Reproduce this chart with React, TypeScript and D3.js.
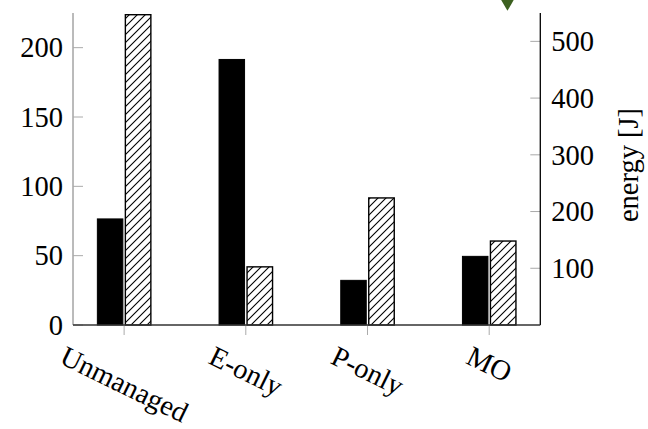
import React, { useEffect, useRef } from "react";
import * as d3 from "d3";

const categories = ["Unmanaged", "E-only", "P-only", "MO"];
const timeValues = [76.5, 191.5, 32.2, 49.5];
const energyValues = [547, 102.5, 224, 148];
const leftTicks = [0, 50, 100, 150, 200];
const rightTicks = [100, 200, 300, 400, 500];
const markerPoints = [{ pos: 3.15, energy: 570 }];

const W = 648;
const H = 429;
const FONT = "'Liberation Serif', 'DejaVu Serif', serif";
const FS = 28.5;

export default function App() {
  const ref = useRef<SVGSVGElement | null>(null);

  useEffect(() => {
    const svg = d3.select(ref.current);
    svg.selectAll("*").remove();

    const left = 73, right = 540.3, top = 13, bottom = 325;
    const x = d3.scaleLinear().domain([-0.42, 3.42]).range([left, right]);
    const yL = d3.scaleLinear().domain([0, 225]).range([bottom, top]);
    const yR = d3.scaleLinear().domain([0, 550]).range([bottom, top]);
    const barW = 25.5;
    const off = 14;
    const P = 8;

    const defs = svg.append("defs");
    const pat = defs
      .append("pattern")
      .attr("id", "hatch")
      .attr("patternUnits", "userSpaceOnUse")
      .attr("width", P)
      .attr("height", P);
    pat.append("rect").attr("width", P).attr("height", P).attr("fill", "white");
    pat
      .append("path")
      .attr("d", `M${-P / 4},${P / 4} L${P / 4},${-P / 4} M0,${P} L${P},0 M${(3 * P) / 4},${(5 * P) / 4} L${(5 * P) / 4},${(3 * P) / 4}`)
      .attr("stroke", "black")
      .attr("stroke-width", 1.1);

    // bars
    svg
      .append("g")
      .selectAll("rect")
      .data(timeValues)
      .join("rect")
      .attr("x", (_, i) => x(i) - off - barW / 2)
      .attr("y", (d) => yL(d))
      .attr("width", barW)
      .attr("height", (d) => yL(0) - yL(d))
      .attr("fill", "black")
      .attr("stroke", "black")
      .attr("stroke-width", 1);

    svg
      .append("g")
      .selectAll("rect")
      .data(energyValues)
      .join("rect")
      .attr("x", (_, i) => x(i) + off - barW / 2)
      .attr("y", (d) => yR(d))
      .attr("width", barW)
      .attr("height", (d) => yR(0) - yR(d))
      .attr("fill", "url(#hatch)")
      .attr("stroke", "black")
      .attr("stroke-width", 1.4);

    // left axis
    svg
      .append("line")
      .attr("x1", left)
      .attr("x2", left)
      .attr("y1", top)
      .attr("y2", bottom)
      .attr("stroke", "#777")
      .attr("stroke-width", 1);
    const lg = svg.append("g");
    leftTicks.forEach((t) => {
      lg.append("line")
        .attr("x1", left)
        .attr("x2", left + 10)
        .attr("y1", yL(t))
        .attr("y2", yL(t))
        .attr("stroke", "#aaa")
        .attr("stroke-width", 1);
      lg.append("text")
        .attr("x", left - 10)
        .attr("y", yL(t))
        .attr("dy", "0.34em")
        .attr("text-anchor", "end")
        .attr("font-family", FONT)
        .attr("font-size", FS)
        .text(t);
    });

    // right axis
    const rg = svg.append("g");
    rightTicks.forEach((t) => {
      rg.append("line")
        .attr("x1", right - 10)
        .attr("x2", right)
        .attr("y1", yR(t))
        .attr("y2", yR(t))
        .attr("stroke", "#aaa")
        .attr("stroke-width", 1);
      rg.append("text")
        .attr("x", right + 11)
        .attr("y", yR(t))
        .attr("dy", "0.34em")
        .attr("text-anchor", "start")
        .attr("font-family", FONT)
        .attr("font-size", FS)
        .text(t);
    });
    svg
      .append("line")
      .attr("x1", right)
      .attr("x2", right)
      .attr("y1", top)
      .attr("y2", bottom)
      .attr("stroke", "black")
      .attr("stroke-width", 1.3);

    svg
      .append("text")
      .attr("transform", `translate(638,${(top + bottom) / 2 - 4}) rotate(-90)`)
      .attr("text-anchor", "middle")
      .attr("font-family", FONT)
      .attr("font-size", FS)
      .text("energy [J]");

    // bottom axis
    const bg = svg.append("g");
    categories.forEach((c, i) => {
      bg.append("line")
        .attr("x1", x(i))
        .attr("x2", x(i))
        .attr("y1", bottom)
        .attr("y2", bottom + 10)
        .attr("stroke", "#aaa")
        .attr("stroke-width", 1);
    });
    svg
      .append("line")
      .attr("x1", left)
      .attr("x2", right)
      .attr("y1", bottom)
      .attr("y2", bottom)
      .attr("stroke", "#333")
      .attr("stroke-width", 1.3);

    const ang = 26;
    const rad = (ang * Math.PI) / 180;
    const labelTop = 343;
    const th = FS * 0.9;
    categories.forEach((c, i) => {
      const t = bg
        .append("text")
        .attr("text-anchor", "middle")
        .attr("dy", "0.32em")
        .attr("font-family", FONT)
        .attr("font-size", FS)
        .text(c);
      const L = (t.node() as SVGTextElement).getComputedTextLength();
      const bh = L * Math.sin(rad) + th * Math.cos(rad);
      t.attr("transform", `translate(${x(i)},${labelTop + bh / 2}) rotate(${ang})`);
    });

    // marker
    const tri = d3.symbol().type(d3.symbolTriangle).size(110);
    svg
      .append("g")
      .selectAll("path")
      .data(markerPoints)
      .join("path")
      .attr("d", tri)
      .attr("transform", (d) => `translate(${x(d.pos)},${yR(d.energy)}) rotate(180)`)
      .attr("fill", "#3c6020");
  }, []);

  return (
    <div style={{ position: "absolute", left: 0, top: 0 }}>
      <svg ref={ref} width={W} height={H} style={{ display: "block", background: "white" }} />
    </div>
  );
}
